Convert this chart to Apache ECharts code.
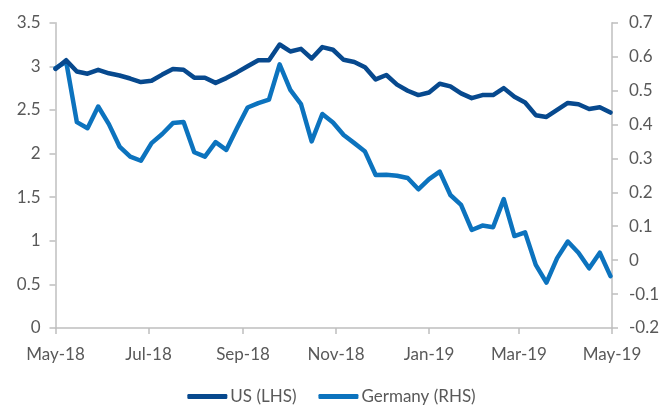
<!DOCTYPE html>
<html>
<head>
<meta charset="utf-8">
<script src="https://cdn.jsdelivr.net/npm/echarts@6/dist/echarts.min.js"></script>
<style>
  html, body { margin: 0; padding: 0; background: #fff; }
  #chart { width: 663px; height: 412px; }
</style>
</head>
<body>
<div id="chart"></div>
<script>
// Weekly observation dates
var dates = [
  '2018-05-01','2018-05-08','2018-05-15','2018-05-22','2018-05-29',
  '2018-06-05','2018-06-12','2018-06-19','2018-06-26',
  '2018-07-03','2018-07-10','2018-07-17','2018-07-24','2018-07-31',
  '2018-08-07','2018-08-14','2018-08-21','2018-08-28',
  '2018-09-04','2018-09-11','2018-09-18','2018-09-25',
  '2018-10-02','2018-10-09','2018-10-16','2018-10-23','2018-10-30',
  '2018-11-06','2018-11-13','2018-11-20','2018-11-27',
  '2018-12-04','2018-12-11','2018-12-18','2018-12-25',
  '2019-01-01','2019-01-08','2019-01-15','2019-01-22','2019-01-29',
  '2019-02-05','2019-02-12','2019-02-19','2019-02-26',
  '2019-03-05','2019-03-12','2019-03-19','2019-03-26',
  '2019-04-02','2019-04-09','2019-04-16','2019-04-23','2019-04-30'
];

// US 10y yield (LHS)
var usValues = [
  2.97, 3.07, 2.94, 2.915, 2.96, 2.92, 2.895, 2.86, 2.82, 2.835,
  2.905, 2.97, 2.96, 2.87, 2.87, 2.81, 2.865, 2.93, 3.00, 3.07,
  3.07, 3.25, 3.17, 3.20, 3.09, 3.22, 3.19, 3.075, 3.05, 2.99,
  2.85, 2.90, 2.79, 2.72, 2.67, 2.70, 2.80, 2.77, 2.69, 2.635,
  2.67, 2.67, 2.75, 2.65, 2.585, 2.44, 2.42, 2.50, 2.58, 2.565,
  2.51, 2.53, 2.47
];

// Germany 10y yield (RHS)
var deValues = [
  0.566, 0.585, 0.407, 0.389, 0.453, 0.401, 0.335, 0.305, 0.293, 0.345,
  0.372, 0.404, 0.407, 0.318, 0.305, 0.348, 0.325, 0.389, 0.450, 0.463,
  0.473, 0.577, 0.502, 0.460, 0.350, 0.431, 0.406, 0.369, 0.345, 0.320,
  0.251, 0.252, 0.249, 0.242, 0.209, 0.239, 0.261, 0.192, 0.163, 0.089,
  0.102, 0.097, 0.180, 0.071, 0.082, -0.014, -0.066, 0.006, 0.055, 0.022,
  -0.024, 0.022, -0.047
];

// X-axis tick label dates
var xTickDates = ['2018-05-01','2018-07-01','2018-09-01','2018-11-01','2019-01-01','2019-03-01','2019-05-01'];

var seriesNames = ['US (LHS)', 'Germany (RHS)'];
var monthNames = ['Jan','Feb','Mar','Apr','May','Jun','Jul','Aug','Sep','Oct','Nov','Dec'];

function toTs(s) { return new Date(s + 'T00:00:00').getTime(); }

var xTicks = xTickDates.map(toTs);
var usData = dates.map(function (d, i) { return [toTs(d), usValues[i]]; });
var deData = dates.map(function (d, i) { return [toTs(d), deValues[i]]; });

var FONT = 'Lato';
var FS = 17;
var TXT = '#595959';
var AXIS = '#BFBFBF';

var chart = echarts.init(document.getElementById('chart'), null, { renderer: 'canvas' });
chart.setOption({
  animation: false,
  backgroundColor: '#ffffff',
  grid: { left: 55.5, right: 51, top: 22.7, bottom: 84, containLabel: false },
  legend: {
    data: seriesNames,
    bottom: 2,
    left: 'center',
    icon: 'roundRect',
    itemWidth: 40,
    itemHeight: 5,
    itemGap: 22,
    textStyle: { fontFamily: FONT, fontSize: FS, color: TXT, padding: [0, 0, 0, -2] }
  },
  xAxis: {
    type: 'value',
    min: xTicks[0],
    max: xTicks[xTicks.length - 1],
    splitLine: { show: false },
    axisLine: { show: true, lineStyle: { color: AXIS, width: 1.5 } },
    axisTick: { show: true, length: 6, lineStyle: { color: AXIS, width: 1.5 }, customValues: xTicks },
    axisLabel: {
      customValues: xTicks,
      margin: 18,
      fontFamily: FONT, fontSize: FS, color: TXT,
      formatter: function (v) {
        var d = new Date(v);
        return monthNames[d.getMonth()] + '-' + String(d.getFullYear()).slice(2);
      },
      hideOverlap: false,
      showMinLabel: true,
      showMaxLabel: true
    }
  },
  yAxis: [
    {
      type: 'value',
      position: 'left',
      min: 0, max: 3.5, interval: 0.5,
      splitLine: { show: false },
      axisLine: { show: true, lineStyle: { color: AXIS, width: 1.5 } },
      axisTick: { show: true, length: 6, lineStyle: { color: AXIS, width: 1.5 } },
      axisLabel: { margin: 15, fontFamily: FONT, fontSize: FS, color: TXT }
    },
    {
      type: 'value',
      position: 'right',
      min: -0.2, max: 0.7, interval: 0.1,
      splitLine: { show: false },
      axisLine: { show: true, lineStyle: { color: AXIS, width: 1.5 } },
      axisTick: { show: true, length: 6, lineStyle: { color: AXIS, width: 1.5 } },
      axisLabel: {
        margin: 17, fontFamily: FONT, fontSize: FS, color: TXT,
        formatter: function (v) { return String(Math.round(v * 10) / 10); }
      }
    }
  ],
  series: [
    {
      name: seriesNames[0],
      type: 'line',
      yAxisIndex: 0,
      data: usData,
      showSymbol: false,
      z: 3,
      itemStyle: { color: '#07498E' },
      lineStyle: { color: '#07498E', width: 4.5, join: 'round', cap: 'round' }
    },
    {
      name: seriesNames[1],
      type: 'line',
      yAxisIndex: 1,
      data: deData,
      showSymbol: false,
      z: 2,
      itemStyle: { color: '#0C73BE' },
      lineStyle: { color: '#0C73BE', width: 4.5, join: 'round', cap: 'round' }
    }
  ]
});
</script>
</body>
</html>
